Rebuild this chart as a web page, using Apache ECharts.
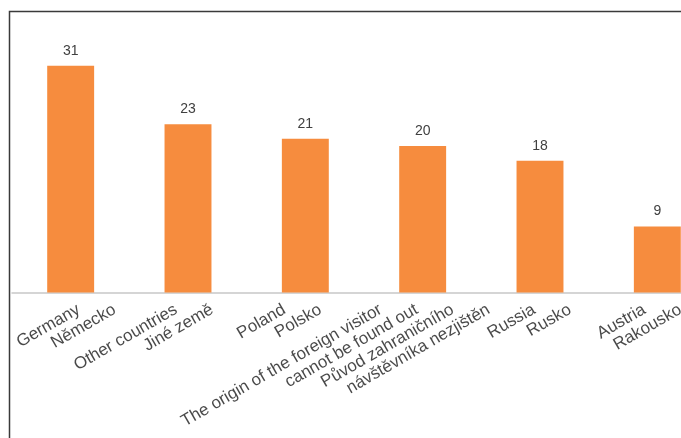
<!DOCTYPE html>
<html>
<head>
<meta charset="utf-8">
<script src="https://cdn.jsdelivr.net/npm/echarts@6/dist/echarts.min.js"></script>
<style>
  html, body { margin: 0; padding: 0; background: #ffffff; }
  #chart { width: 681px; height: 438px; }
</style>
</head>
<body>
<div id="chart"></div>
<script>
// Foreign visitors by country of origin (bilingual EN / CZ labels)
const categories = ['Germany', 'Other countries', 'Poland', 'Unknown origin', 'Russia', 'Austria'];
const labelLines = [
  ['Germany', 'Německo'],
  ['Other countries', 'Jiné země'],
  ['Poland', 'Polsko'],
  ['The origin of the foreign visitor', 'cannot be found out', 'Původ zahraničního', 'návštěvníka nezjištěn'],
  ['Russia', 'Rusko'],
  ['Austria', 'Rakousko']
];
const visitors = [31, 23, 21, 20, 18, 9];

// Label layout: horizontal shift of each block's last line, and the step between lines
const blockShift = [43, 23, 14, 65, 29, 22];
const lineStep = 36;
const labelDrop = 17;

const labelItems = [];
labelLines.forEach(function (lines, c) {
  const n = lines.length;
  lines.forEach(function (text, i) {
    labelItems.push({
      value: [c, 0],
      label: {
        formatter: text,
        position: [blockShift[c] - lineStep * (n - 1 - i) + 2, labelDrop]
      }
    });
  });
});

const chart = echarts.init(document.getElementById('chart'), null, { renderer: 'canvas' });

chart.setOption({
  animation: false,
  backgroundColor: '#ffffff',
  grid: { left: 12, top: 36.4, width: 704, height: 256, outerBoundsMode: 'none', containLabel: false },
  xAxis: {
    type: 'category',
    data: categories,
    axisLine: { lineStyle: { color: '#c8c8c8', width: 1.5 } },
    axisTick: { show: false },
    axisLabel: { show: false },
    splitLine: { show: false }
  },
  yAxis: {
    type: 'value',
    min: 0,
    max: 35,
    show: false,
    splitLine: { show: false }
  },
  graphic: [{
    type: 'rect',
    silent: true,
    shape: { x: 9.5, y: 11.5, width: 720, height: 460 },
    style: { fill: 'none', stroke: '#3a3a3a', lineWidth: 1.5 }
  }],
  series: [
    {
      type: 'bar',
      data: visitors,
      barWidth: '40%',
      itemStyle: { color: '#F68C3E' },
      label: {
        show: true,
        position: 'top',
        distance: 8,
        color: '#404040',
        fontSize: 14,
        fontFamily: 'Liberation Sans, Arial, sans-serif'
      }
    },
    {
      type: 'scatter',
      data: labelItems,
      symbolSize: 2,
      itemStyle: { color: 'rgba(0,0,0,0)' },
      silent: true,
      label: {
        show: true,
        rotate: 30,
        align: 'right',
        verticalAlign: 'middle',
        color: '#1a1a1a',
        fontSize: 17,
        fontFamily: 'Liberation Sans, Arial, sans-serif'
      },
      labelLayout: { hideOverlap: false }
    }
  ]
});
</script>
</body>
</html>
